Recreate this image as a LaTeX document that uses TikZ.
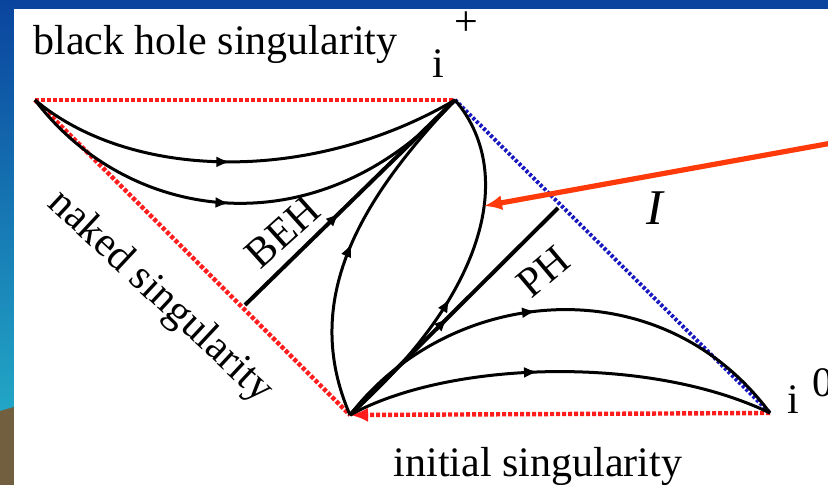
\documentclass[tikz,border=0pt]{standalone}
\usepackage{fontspec}
\setmainfont{Liberation Serif}
\usetikzlibrary{arrows.meta,decorations.markings}
\definecolor{slideblue}{HTML}{0A449E}
\definecolor{slidecyan}{HTML}{22A6C6}
\definecolor{slidebrown}{HTML}{725F40}
\definecolor{singred}{HTML}{FF1C1C}
\definecolor{scriblue}{HTML}{1818C0}
\definecolor{pointer}{HTML}{FF3A0A}
\tikzset{
    lbl/.style={font=\fontsize{21}{25}\selectfont,inner sep=0pt},
    sing/.style={singred,line width=2.2pt,dash pattern=on 2pt off 1pt},
    scri/.style={scriblue,line width=2pt,dash pattern=on 1.5pt off 1pt},
    ray/.style={line width=1.5pt},
    hor/.style={line width=2pt},
    flow/.style={postaction={decorate},decoration={markings,mark=at position #1 with {\arrow{Latex[length=7pt,width=5.5pt]}}}},
    arrow/.style={pointer,line width=2.6pt,-{Latex[length=9pt,width=7.5pt]}}
}

\begin{document}
\begin{tikzpicture}[x=0.5pt,y=-0.5pt]
    \fill[slideblue] (0,0) rectangle (828,9);
    \shade[top color=slideblue,bottom color=slidecyan] (0,0) rectangle (14,410);
    \fill[slidebrown] (0,411) -- (14,407) -- (14,485) -- (0,485) -- cycle;
    \fill[white] (14,9) rectangle (828,485);
    \useasboundingbox (0,0) rectangle (828,485);

    \coordinate (a) at (35,100);
    \coordinate (ip) at (455,100);
    \coordinate (o) at (350,415);
    \coordinate (io) at (770,413);
    \coordinate (beh) at (245,305);
    \coordinate (ph) at (558,208);
    \coordinate (src) at (832,143);
    \coordinate (hit) at (484,206);

    \draw[sing] (a) -- (ip);
    \draw[sing] (a) -- (o);
    \draw[sing,-{Latex[length=9pt,width=7pt]}] (io) -- (o);
    \draw[scri] (ip) -- (io);

    \draw[ray,flow=0.47] (a) .. controls (130,180) and (310,185) .. (ip);
    \draw[ray,flow=0.47] (a) .. controls (130,225) and (320,250) .. (ip);
    \draw[ray,flow=0.5] (o) .. controls (300,300) and (360,200) .. (ip);
    \draw[ray,flow=0.42] (o) .. controls (490,290) and (515,170) .. (ip);
    \draw[ray,flow=0.45] (o) .. controls (450,285) and (660,265) .. (io);
    \draw[ray,flow=0.45] (o) .. controls (450,360) and (650,355) .. (io);
    \draw[hor,flow=0.45] (beh) -- (ip);
    \draw[hor,flow=0.47] (o) -- (ph);
    \draw[arrow] (src) -- (hit);

    \node[lbl,anchor=base west] (bhs) at (33,55) {black hole singularity};
    \node[lbl,anchor=base] (iplus) at (438,78) {i};
    \node[lbl] (plus) at (466,24) {+};
    \node[lbl,anchor=base] (izero) at (793,413) {i};
    \node[lbl] (zero) at (823,383) {0};
    \node[lbl,font=\fontsize{25}{30}\selectfont\itshape] (scril) at (655,208) {I};
    \node[lbl,rotate=-43] (naked) at (160,297) {naked singularity};
    \node[lbl,rotate=42] (behl) at (283,232) {BEH};
    \node[lbl,rotate=40] (phl) at (543,272) {PH};
    \node[lbl,anchor=base] (init) at (538,476) {initial singularity};
\end{tikzpicture}
\end{document}
